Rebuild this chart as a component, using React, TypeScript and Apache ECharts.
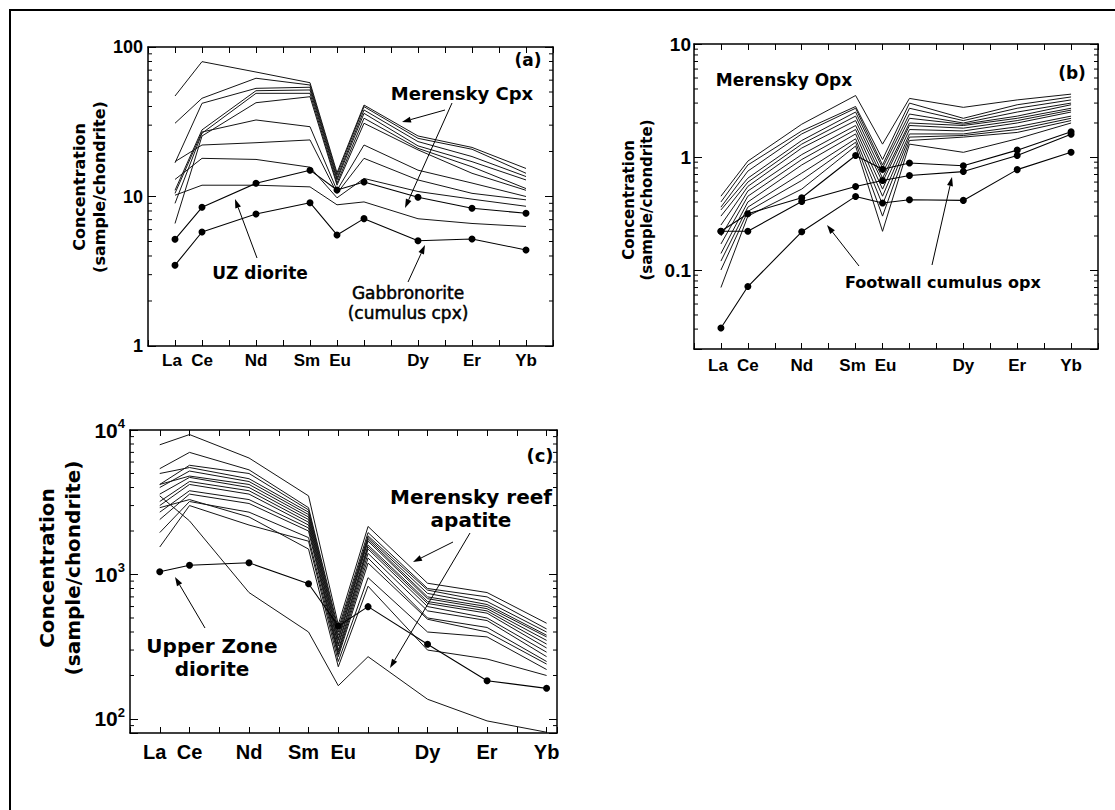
import React, { useEffect, useRef } from 'react';
import * as echarts from 'echarts';

// ---------- data ----------
const ELEMENTS = ['La', 'Ce', 'Pr', 'Nd', 'Pm', 'Sm', 'Eu', 'Gd', 'Tb', 'Dy', 'Ho', 'Er', 'Tm', 'Yb'];
const TICK_LABELS = ['La', 'Ce', '', 'Nd', '', 'Sm', 'Eu', '', '', 'Dy', '', 'Er', '', 'Yb'];
const ANALYSED = ['La', 'Ce', 'Nd', 'Sm', 'Eu', 'Gd', 'Dy', 'Er', 'Yb'];

// (a) clinopyroxene
const merenskyCpx = [
  [47.0, 79.8, 68.0, 57.7, 14.4, 40.9, 25.4, 21.3, 15.4],
  [30.9, 45.4, 61.8, 55.7, 13.9, 39.9, 24.5, 20.7, 14.3],
  [16.8, 42.0, 52.9, 53.8, 13.3, 37.9, 23.3, 18.5, 13.6],
  [11.0, 27.9, 51.0, 51.6, 12.9, 36.0, 21.8, 17.1, 12.9],
  [9.0, 26.5, 49.0, 49.0, 12.3, 33.4, 21.0, 15.8, 11.3],
  [6.6, 25.4, 42.4, 46.5, 11.9, 30.9, 20.5, 14.3, 11.0],
  [10.5, 27.0, 32.5, 29.3, 11.0, 22.1, 15.0, 12.3, 10.0],
  [17.1, 22.1, 22.9, 23.9, 10.5, 18.0, 12.9, 10.5, 9.5],
  [13.0, 18.0, 17.7, 15.7, 9.8, 13.2, 10.8, 9.6, 8.6],
  [10.2, 11.9, 11.9, 11.6, 8.8, 9.2, 7.1, 6.6, 6.3],
];
const uzDioriteCpx = [5.17, 8.47, 12.25, 15.0, 11.05, 12.5, 9.88, 8.34, 7.72];
const gabbronoriteCpx = [3.47, 5.79, 7.64, 9.09, 5.53, 7.11, 5.06, 5.2, 4.39];

// (b) orthopyroxene
const merenskyOpx = [
  [0.45, 0.92, 1.95, 3.5, 1.3, 3.3, 2.75, 3.2, 3.6],
  [0.4, 0.85, 1.7, 2.8, 0.95, 3.0, 2.2, 2.9, 3.4],
  [0.36, 0.75, 1.6, 2.7, 0.85, 2.7, 2.1, 2.7, 3.2],
  [0.34, 0.65, 1.4, 2.5, 0.8, 2.4, 2.0, 2.5, 3.0],
  [0.3, 0.6, 1.3, 2.3, 0.72, 2.2, 1.95, 2.3, 2.9],
  [0.25, 0.55, 1.2, 2.1, 0.65, 2.0, 1.9, 2.2, 2.7],
  [0.2, 0.5, 1.05, 1.9, 0.6, 1.9, 1.8, 2.1, 2.6],
  [0.17, 0.45, 0.95, 1.75, 0.52, 1.75, 1.7, 2.0, 2.5],
  [0.14, 0.4, 0.85, 1.6, 0.45, 1.6, 1.6, 1.85, 2.3],
  [0.12, 0.36, 0.72, 1.45, 0.38, 1.5, 1.55, 1.75, 2.2],
  [0.1, 0.33, 0.62, 1.35, 0.3, 1.4, 1.5, 1.65, 2.1],
  [0.07, 0.3, 0.52, 1.25, 0.22, 1.3, 1.1, 1.45, 2.0],
];
const footwallOpx = [
  [0.0307, 0.0714, 0.218, 0.448, 0.392, 0.419, 0.413, 0.773, 1.1],
  [0.22, 0.22, 0.404, 0.548, 0.62, 0.685, 0.743, 1.03, 1.59],
  [0.22, 0.315, 0.436, 1.03, 0.78, 0.885, 0.838, 1.15, 1.67],
];

// (c) apatite
const merenskyApatite = [
  [7900, 9300, 6400, 3500, 450, 2150, 870, 750, 460],
  [5400, 7000, 5300, 2900, 420, 1950, 800, 700, 420],
  [4200, 5700, 5000, 2800, 400, 1850, 780, 650, 400],
  [5000, 5500, 4600, 2700, 380, 1800, 740, 620, 380],
  [4000, 5200, 4400, 2600, 360, 1750, 700, 600, 370],
  [4200, 4800, 4200, 2500, 350, 1700, 680, 580, 350],
  [3600, 4700, 4000, 2400, 330, 1600, 650, 560, 330],
  [3200, 4400, 3800, 2300, 320, 1550, 630, 540, 310],
  [3000, 4200, 3600, 2200, 300, 1500, 600, 500, 290],
  [2700, 3800, 3300, 2100, 290, 1400, 560, 480, 270],
  [2400, 3600, 3100, 2000, 280, 1300, 500, 430, 250],
  [1950, 3200, 2700, 1800, 270, 1200, 490, 400, 240],
  [1550, 3000, 2200, 1700, 250, 950, 400, 370, 220],
  [2900, 3300, 2500, 1500, 230, 830, 300, 260, 200],
  [3500, 2350, 750, 400, 170, 270, 137, 97, 81],
];
const uzDioriteApatite = [1045, 1159, 1205, 863, 440, 599, 329, 184, 163];

// axis tick labels
const Y_TICKS_A = [1, 10, 100];
const Y_LABELS_A = ['1', '10', '100'];
const Y_TICKS_B = [0.1, 1, 10];
const Y_LABELS_B = ['0.1', '1', '10'];
const Y_TICKS_C = [100, 1000, 10000];
const Y_LABELS_C = ['10{sup|2}', '10{sup|3}', '10{sup|4}'];

// ---------- layout ----------
const FONT = '"DejaVu Sans", "Liberation Sans", Arial, sans-serif';
const TICK_FONT = '"Liberation Sans", Arial, Helvetica, sans-serif';
const INK = '#141414';

// per-label nudges (px) that mimic the original typesetting of the x tick labels
const LABEL_NUDGE: Record<string, string> = { La: 'l', Sm: 'l', Eu: 'r' };

const PANELS = [
  { left: 148, top: 47, width: 405, height: 299, xMax: 14, yMin: 1, yMax: 100, ticks: Y_TICKS_A, labels: Y_LABELS_A, ySize: 18, xSize: 17, yMargin: 5, xMargin: 6, nudge: 3 },
  { left: 694, top: 44, width: 404, height: 305, xMax: 14, yMin: 0.02, yMax: 10, ticks: Y_TICKS_B, labels: Y_LABELS_B, ySize: 19, xSize: 17, yMargin: 3, xMargin: 8, nudge: 3 },
  { left: 130, top: 430, width: 427, height: 303, xMax: 13.35, yMin: 80, yMax: 10000, ticks: Y_TICKS_C, labels: Y_LABELS_C, ySize: 21, xSize: 20, yMargin: 5, xMargin: 9, nudge: 5 },
];

function minorTicks(lo: number, hi: number) {
  const out: number[] = [];
  for (let d = Math.floor(Math.log10(lo)); d <= Math.ceil(Math.log10(hi)); d++) {
    for (let k = 2; k <= 9; k++) {
      const v = k * Math.pow(10, d);
      if (v > lo * 1.0001 && v < hi * 0.9999) out.push(v);
    }
  }
  return out;
}

function lineData(row: number[]) {
  return row.map((v, i) => [ELEMENTS.indexOf(ANALYSED[i]), v]);
}

function xFmt(v: number) {
  const i = Math.round(v);
  if (Math.abs(v - i) > 1e-6 || i < 0 || i >= TICK_LABELS.length) return '';
  const lab = TICK_LABELS[i];
  if (!lab) return '';
  const n = LABEL_NUDGE[lab];
  return n ? `{${n}|${lab}}` : lab;
}

function yFmtFactory(ticks: number[], labels: string[]) {
  return (v: number) => {
    const l = Math.log10(v);
    for (let i = 0; i < ticks.length; i++) {
      if (Math.abs(l - Math.log10(ticks[i])) < 1e-5) return labels[i];
    }
    return '';
  };
}

function plainSeries(rows: number[][], g: number) {
  return rows.map((r) => ({
    type: 'line',
    xAxisIndex: 2 * g,
    yAxisIndex: 2 * g,
    data: lineData(r),
    symbol: 'none',
    showSymbol: false,
    lineStyle: { color: INK, width: 1 },
    silent: true,
    z: 2,
  }));
}

function dotSeries(row: number[], g: number) {
  return {
    type: 'line',
    xAxisIndex: 2 * g,
    yAxisIndex: 2 * g,
    data: lineData(row),
    symbol: 'circle',
    symbolSize: 7,
    showSymbol: true,
    showAllSymbol: true,
    itemStyle: { color: '#000', borderWidth: 0 },
    lineStyle: { color: '#000', width: 1.1 },
    silent: true,
    z: 3,
  };
}

function minorTickSeries(g: number) {
  const p = PANELS[g];
  const vals = minorTicks(p.yMin, p.yMax);
  return {
    type: 'custom',
    xAxisIndex: 2 * g,
    yAxisIndex: 2 * g,
    data: vals.map((v) => [-1, v]),
    silent: true,
    clip: false,
    renderItem: (params: any, api: any) => {
      const v = api.value(1);
      const l = api.coord([-1, v]);
      const r = api.coord([p.xMax, v]);
      return {
        type: 'group',
        children: [
          { type: 'line', shape: { x1: l[0], y1: l[1], x2: l[0] + 4, y2: l[1] }, style: { stroke: '#000', lineWidth: 1 } },
          { type: 'line', shape: { x1: r[0], y1: r[1], x2: r[0] - 4, y2: r[1] }, style: { stroke: '#000', lineWidth: 1 } },
        ],
      };
    },
  };
}

function text(t: string, x: number, y: number, size: number, weight = 'bold', lineHeight?: number, align = 'center', extra: any = {}) {
  return {
    type: 'text',
    x,
    y,
    silent: true,
    z: 10,
    style: {
      text: t,
      fill: '#000',
      font: `${weight} ${size}px ${FONT}`,
      fontSize: size,
      fontWeight: weight,
      fontFamily: FONT,
      lineHeight: lineHeight ?? Math.round(size * 1.2),
      align,
      textAlign: align,
      verticalAlign: 'middle',
      textVerticalAlign: 'middle',
      ...extra,
    },
  };
}

function yTitle(x: number, y: number, size: number, lineHeight: number) {
  const t: any = text('Concentration\n(sample/chondrite)', x, y, size, 'bold', lineHeight);
  t.rotation = Math.PI / 2;
  return t;
}

function arrow(x1: number, y1: number, x2: number, y2: number) {
  const ang = Math.atan2(y2 - y1, x2 - x1);
  const L = 9;
  const W = 3;
  const bx = x2 - L * Math.cos(ang);
  const by = y2 - L * Math.sin(ang);
  const px = -Math.sin(ang) * W;
  const py = Math.cos(ang) * W;
  return [
    { type: 'line', silent: true, z: 10, shape: { x1, y1, x2: bx, y2: by }, style: { stroke: '#000', lineWidth: 1 } },
    { type: 'polygon', silent: true, z: 10, shape: { points: [[x2, y2], [bx + px, by + py], [bx - px, by - py]] }, style: { fill: '#000' } },
  ];
}

function buildOption() {
  const grids = PANELS.map((p) => ({
    left: p.left,
    top: p.top,
    width: p.width,
    height: p.height,
    containLabel: false,
    outerBoundsMode: 'none',
  }));

  const axisLineStyle = { color: '#000', width: 1.5 };
  const tickStyle = { color: '#000', width: 1 };

  const xAxis = PANELS.flatMap((p, g) => {
    const tokenBase = { fontFamily: TICK_FONT, fontWeight: 'bold', fontSize: p.xSize, color: '#000' };
    return [
      {
        gridIndex: g,
        type: 'value',
        min: -1,
        max: p.xMax,
        interval: 1,
        position: 'bottom',
        axisLine: { show: true, onZero: false, lineStyle: axisLineStyle },
        axisTick: { show: true, inside: true, length: 6, lineStyle: tickStyle },
        splitLine: { show: false },
        axisLabel: {
          formatter: xFmt,
          color: '#000',
          fontFamily: TICK_FONT,
          fontWeight: 'bold',
          fontSize: p.xSize,
          margin: p.xMargin,
          hideOverlap: false,
          rich: {
            l: { ...tokenBase, padding: [0, 2 * p.nudge, 0, 0] },
            r: { ...tokenBase, padding: [0, 0, 0, 2 * p.nudge] },
          },
        },
      },
      {
        gridIndex: g,
        type: 'value',
        min: -1,
        max: p.xMax,
        interval: 1,
        position: 'top',
        axisLine: { show: true, onZero: false, lineStyle: axisLineStyle },
        axisTick: { show: true, inside: true, length: 6, lineStyle: tickStyle },
        splitLine: { show: false },
        axisLabel: { show: false },
      },
    ];
  });

  const yAxis = PANELS.flatMap((p, g) => [
    {
      gridIndex: g,
      type: 'log',
      logBase: 10,
      min: p.yMin,
      max: p.yMax,
      position: 'left',
      axisLine: { show: true, onZero: false, lineStyle: axisLineStyle },
      axisTick: { show: true, inside: true, length: 8, lineStyle: tickStyle },
      splitLine: { show: false },
      axisLabel: {
        formatter: yFmtFactory(p.ticks, p.labels),
        color: '#000',
        fontFamily: TICK_FONT,
        fontWeight: 'bold',
        fontSize: p.ySize,
        lineHeight: 26,
        margin: p.yMargin,
        hideOverlap: false,
        rich: {
          sup: { fontSize: 13, fontWeight: 'bold', fontFamily: TICK_FONT, color: '#000', verticalAlign: 'top', lineHeight: 13 },
        },
      },
    },
    {
      gridIndex: g,
      type: 'log',
      logBase: 10,
      min: p.yMin,
      max: p.yMax,
      position: 'right',
      axisLine: { show: true, onZero: false, lineStyle: axisLineStyle },
      axisTick: { show: true, inside: true, length: 8, lineStyle: tickStyle },
      splitLine: { show: false },
      axisLabel: { show: false },
    },
  ]);

  const series: any[] = [
    ...plainSeries(merenskyCpx, 0),
    dotSeries(uzDioriteCpx, 0),
    dotSeries(gabbronoriteCpx, 0),
    ...plainSeries(merenskyOpx, 1),
    ...footwallOpx.map((r) => dotSeries(r, 1)),
    ...plainSeries(merenskyApatite, 2),
    dotSeries(uzDioriteApatite, 2),
    minorTickSeries(0),
    minorTickSeries(1),
    minorTickSeries(2),
  ];

  const graphic = [
    { type: 'rect', silent: true, z: 0, shape: { x: 10, y: 10, width: 1200, height: 900 }, style: { fill: 'none', stroke: '#000', lineWidth: 2 } },
    yTitle(89, 187, 16, 20),
    yTitle(637.5, 200, 15, 18),
    yTitle(60, 568, 20, 26),
    text('(a)', 528, 60, 17),
    text('Merensky Cpx', 462, 93, 18),
    text('UZ diorite', 260, 273, 17),
    text('Gabbronorite\n(cumulus cpx)', 408, 303, 17, 'normal', 20, 'center', { stroke: '#000', lineWidth: 0.5 }),
    text('Merensky Opx', 784, 80, 17),
    text('(b)', 1072, 73, 17),
    text('Footwall cumulus opx', 845, 282, 16, 'bold', 20, 'left'),
    text('(c)', 540, 455, 18),
    text('Merensky reef\napatite', 471, 508, 20, 'bold', 23),
    text('Upper Zone\ndiorite', 212, 657, 20, 'bold', 23),
    ...arrow(445, 110, 402, 122),
    ...arrow(452, 103, 405, 208),
    ...arrow(257, 258, 235, 199),
    ...arrow(408, 282, 425, 245),
    ...arrow(859, 266, 827, 225),
    ...arrow(932, 265, 952, 177),
    ...arrow(453, 542, 413, 562),
    ...arrow(470, 533, 390, 668),
    ...arrow(205, 628, 175, 577),
  ];

  return {
    animation: false,
    backgroundColor: '#fff',
    grid: grids,
    xAxis,
    yAxis,
    series,
    graphic,
  };
}

export default function App() {
  const ref = useRef<HTMLDivElement>(null);
  useEffect(() => {
    if (!ref.current) return;
    const chart = echarts.init(ref.current, null, { renderer: 'svg' });
    chart.setOption(buildOption() as any);
    return () => chart.dispose();
  }, []);
  return (
    <div
      ref={ref}
      style={{ position: 'absolute', left: 0, top: 0, width: 1115, height: 810, background: '#fff' }}
    />
  );
}
